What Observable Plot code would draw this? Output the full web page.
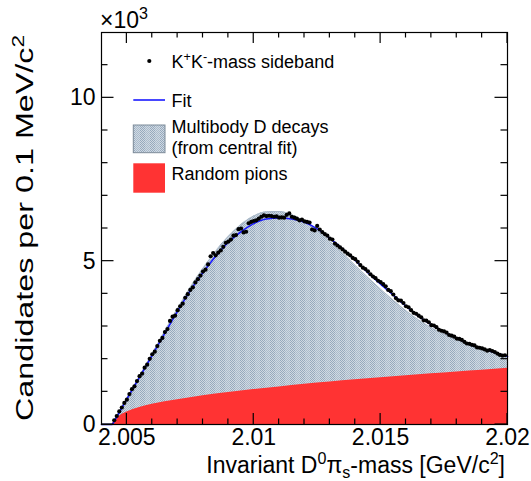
<!DOCTYPE html>
<html><head><meta charset="utf-8">
<script src="https://cdn.jsdelivr.net/npm/d3@7"></script>
<script src="https://cdn.jsdelivr.net/npm/@observablehq/plot@0.6"></script>
<style>body{margin:0;background:#fff}</style>
</head><body><div id="chart"></div>
<script>
// ---- data ----
const binStart = 2.0045;   // GeV/c^2, first populated bin centre
const binWidth = 0.0001;   // 0.1 MeV/c^2
const counts = [
 130,260,400,520,660,760,930,1080,1170,1330,
 1480,1560,1740,1830,2010,2150,2230,2400,2560,2650,
 2830,2920,3170,3300,3330,3500,3620,3700,3880,3990,
 4120,4200,4350,4450,4560,4680,4740,4900,5150,5250,
 5180,5260,5330,5440,5560,5600,5660,5780,5800,5980,
 6000,5880,5900,6160,6200,6230,6250,6300,6360,6400,
 6380,6390,6380,6360,6370,6330,6340,6330,6420,6460,
 6360,6330,6300,6250,6270,6220,6200,6180,5970,5940,
 6080,5970,5890,5830,5780,5690,5660,5540,5480,5420,
 5360,5290,5230,5180,5100,5060,4980,4880,4800,4760,
 4690,4600,4530,4480,4400,4360,4300,4230,4120,4080,
 3980,3870,3800,3790,3720,3620,3590,3500,3420,3390,
 3330,3280,3190,3180,3130,3040,3030,2980,2900,2870,
 2850,2810,2740,2720,2690,2630,2620,2590,2530,2480,
 2470,2440,2420,2360,2350,2330,2300,2260,2280,2250,
 2220,2170,2130,2110,2120
];
const mass = counts.map((_, i) => +(binStart + i * binWidth).toFixed(5));

const fitMass = [2.004,2.00442,2.0045,2.005,2.0055,2.006,2.0065,2.007,2.0075,2.008,2.0085,2.009,2.0095,2.010,2.0105,2.011,2.0115,2.012,2.0125,2.013,2.0135,2.014,2.0145,2.015,2.0155,2.016,2.0165,2.017,2.0175,2.018,2.0185,2.019,2.0195,2.020];
const fitValue = [0,0,100,780,1450,2120,2800,3470,4100,4650,5150,5580,5900,6150,6290,6320,6290,6190,5990,5700,5380,5020,4650,4300,3960,3620,3310,3050,2830,2640,2460,2320,2200,2080];

const multiMass = [2.00442,2.0045,2.005,2.0055,2.006,2.0065,2.007,2.0075,2.008,2.0085,2.009,2.0095,2.010,2.0105,2.011,2.0115,2.012,2.0125,2.013,2.0135,2.014,2.0145,2.015,2.0155,2.016,2.0165,2.017,2.0175,2.018,2.0185,2.019,2.0195,2.020];
const multiValue = [0,110,800,1480,2170,2870,3550,4200,4780,5300,5760,6120,6380,6510,6520,6420,6220,5940,5600,5250,4870,4500,4140,3800,3480,3200,2960,2760,2580,2430,2310,2200,2100];

const randMass = [2.00442,2.0045,2.0047,2.005,2.0055,2.006,2.007,2.008,2.009,2.010,2.011,2.012,2.013,2.014,2.015,2.016,2.017,2.018,2.019,2.020];
const randValue = [0,110,250,380,520,620,760,880,980,1070,1150,1230,1300,1370,1430,1490,1550,1610,1660,1720];

const xDomain = [2.004, 2.02];
const yDomain = [0, 12000];
const xMajor = [2.005, 2.01, 2.015, 2.02];
const xMajorLabels = ["2.005", "2.01", "2.015", "2.02"];
const xMinor = [2.006,2.007,2.008,2.009,2.011,2.012,2.013,2.014,2.016,2.017,2.018,2.019];
const yMajor = [0, 5000, 10000];
const yMajorLabels = ["0", "5", "10"];
const yMinor = [1000,2000,3000,4000,6000,7000,8000,9000,11000];

// ---- layout / style ----
const W = 531, H = 481, mT = 32, mR = 24, mB = 57, mL = 101;
const FONT = "'Liberation Sans', Arial, Helvetica, sans-serif";
const curve = "monotone-x";

const plot = Plot.plot({
  width: W, height: H,
  marginTop: mT, marginRight: mR, marginBottom: mB, marginLeft: mL,
  x: {domain: xDomain, axis: null},
  y: {domain: yDomain, axis: null},
  style: {fontFamily: FONT},
  marks: [
    Plot.areaY(multiValue, {x: multiMass, y: d => d, fill: "url(#mbPattern)", curve}),
    Plot.line(multiValue, {x: multiMass, y: d => d, stroke: "#a9b8c7", strokeWidth: 1, curve}),
    Plot.areaY(randValue, {x: randMass, y: d => d, fill: "#ff3333", curve}),
    Plot.line(fitValue, {x: fitMass, y: d => d, stroke: "#1a1aff", strokeWidth: 1.6, curve}),
    Plot.dot(counts, {x: mass, y: d => d, r: 2.1, fill: "black"}),
    Plot.text(xMajor, {x: d => d, frameAnchor: "bottom", text: (d, i) => xMajorLabels[i], lineAnchor: "top", dy: 4, fontSize: 23, fill: "black"}),
    Plot.text(yMajor, {y: d => d, frameAnchor: "left", text: (d, i) => yMajorLabels[i], textAnchor: "end", dx: -6, fontSize: 23, fill: "black"}),
    Plot.frame({stroke: "black", strokeWidth: 1.2})
  ]
});
document.getElementById("chart").appendChild(plot);

// ---- decorations: pattern, ticks, titles, legend ----
const svg = d3.select(plot);
const defs = svg.append("defs");
const pat = defs.append("pattern").attr("id", "mbPattern").attr("patternUnits", "userSpaceOnUse")
  .attr("width", 10).attr("height", 2);
pat.append("rect").attr("width", 10).attr("height", 2).attr("fill", "#d0d9e2");
for (let c = 0; c < 10; c++) {
  const dark = c < 5 ? "#96a9bd" : "#a9bacb";
  pat.append("rect").attr("x", c).attr("y", c % 2).attr("width", 1).attr("height", 1).attr("fill", dark);
}

// inward ROOT-style ticks on all four sides, positioned with Plot's own scales
const sx = plot.scale("x"), sy = plot.scale("y");
const x0 = sx.apply(xDomain[0]), x1 = sx.apply(xDomain[1]);
const y0 = sy.apply(yDomain[0]), y1 = sy.apply(yDomain[1]);
const tg = svg.append("g").attr("stroke", "black").attr("stroke-width", 1.2);
function vtick(v, len) {
  const px = sx.apply(v);
  tg.append("line").attr("x1", px).attr("x2", px).attr("y1", y0).attr("y2", y0 - len);
  tg.append("line").attr("x1", px).attr("x2", px).attr("y1", y1).attr("y2", y1 + len);
}
function htick(v, len) {
  const py = sy.apply(v);
  tg.append("line").attr("y1", py).attr("y2", py).attr("x1", x0).attr("x2", x0 + len);
  tg.append("line").attr("y1", py).attr("y2", py).attr("x1", x1).attr("x2", x1 - len);
}
xMajor.forEach(v => vtick(v, 11));
xMinor.forEach(v => vtick(v, 5.5));
yMajor.forEach(v => htick(v, 12.5));
yMinor.forEach(v => htick(v, 6.5));

function richText(t, parts) {
  let shift = 0;
  parts.forEach(([s, mode]) => {
    const target = mode === "sup" ? -0.38 : mode === "sub" ? 0.2 : 0;
    const ts = t.append("tspan").text(s);
    if (mode !== "n") ts.attr("font-size", "0.7em");
    const d = target - shift;
    if (d !== 0) ts.attr("dy", (mode === "n" ? d : d / 0.7).toFixed(3) + "em");
    shift = target;
  });
}

const ann = svg.append("g").attr("font-family", FONT).attr("fill", "black").attr("text-anchor", "start");

const mult = ann.append("text").attr("x", 100).attr("y", 28).attr("font-size", 23);
richText(mult, [["×10", "n"], ["3", "sup"]]);

const xt = ann.append("text").attr("x", 505).attr("y", 473).attr("font-size", 23).attr("text-anchor", "end");
richText(xt, [["Invariant D", "n"], ["0", "sup"], ["π", "n"], ["s", "sub"], ["-mass [GeV/c", "n"], ["2", "sup"], ["]", "n"]]);

const yt = ann.append("text").attr("transform", "rotate(-90)").attr("x", -421).attr("y", 33)
  .attr("font-size", 23).attr("text-anchor", "start")
  .attr("textLength", 386).attr("lengthAdjust", "spacingAndGlyphs");
richText(yt, [["Candidates per 0.1 MeV/c", "n"], ["2", "sup"]]);

const lg = ann.append("g").attr("font-size", 18);
lg.append("circle").attr("cx", 149.3).attr("cy", 61).attr("r", 2.1).attr("fill", "black");
const l1 = lg.append("text").attr("x", 171.5).attr("y", 68);
richText(l1, [["K", "n"], ["+", "sup"], ["K", "n"], ["-", "sup"], ["-mass sideband", "n"]]);
lg.append("line").attr("x1", 133.3).attr("x2", 165).attr("y1", 100).attr("y2", 100)
  .attr("stroke", "#1a1aff").attr("stroke-width", 1.6);
lg.append("text").attr("x", 171.5).attr("y", 107).text("Fit");
lg.append("rect").attr("x", 133.3).attr("y", 125).attr("width", 31.7).attr("height", 27.7)
  .attr("fill", "url(#mbPattern)").attr("stroke", "#7d8b99").attr("stroke-width", 1);
lg.append("text").attr("x", 171.5).attr("y", 133).text("Multibody D decays");
lg.append("text").attr("x", 171.5).attr("y", 154).text("(from central fit)");
lg.append("rect").attr("x", 133.3).attr("y", 163.3).attr("width", 31.7).attr("height", 29.4)
  .attr("fill", "#ff3333");
lg.append("text").attr("x", 171.5).attr("y", 179.5).text("Random pions");

svg.select('g[aria-label="frame"]').raise();
tg.raise();
</script></body></html>
